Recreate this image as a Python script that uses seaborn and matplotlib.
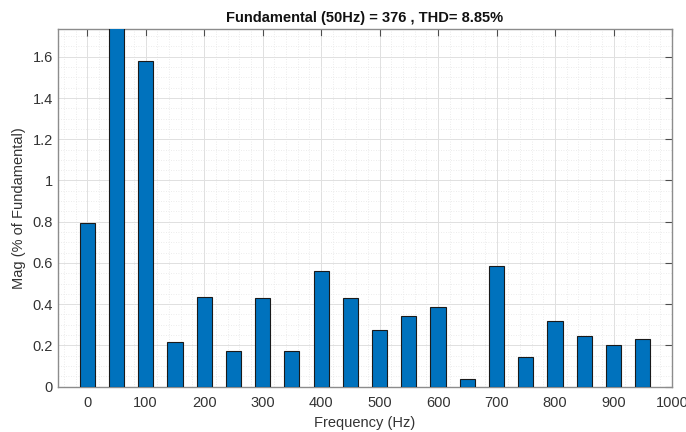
import numpy as np
import pandas as pd
import matplotlib
matplotlib.use("Agg")
import matplotlib.pyplot as plt
from matplotlib.ticker import MultipleLocator, FuncFormatter
import seaborn as sns

# Harmonic spectrum, magnitudes in % of the 50 Hz fundamental
freq_hz = [0, 50, 100, 150, 200, 250, 300, 350, 400, 450,
           500, 550, 600, 650, 700, 750, 800, 850, 900, 950]
mag_pct = [0.795, 100.0, 1.578, 0.218, 0.433, 0.175, 0.430, 0.175, 0.562, 0.430,
           0.273, 0.341, 0.388, 0.037, 0.585, 0.142, 0.320, 0.247, 0.204, 0.230]
x_ticks = list(range(0, 1001, 100))
y_ticks = [0, 0.2, 0.4, 0.6, 0.8, 1.0, 1.2, 1.4, 1.6]

title = "Fundamental (50Hz) = 376 , THD= 8.85%"

sns.set_style("white")
plt.rcParams["font.family"] = ["Liberation Sans", "DejaVu Sans"]

df = pd.DataFrame({"freq": freq_hz, "mag": mag_pct})

fig = plt.figure(figsize=(6.86, 4.32), dpi=100)
ax = fig.add_axes([0.0845, 0.105, 0.8951, 0.827])

sns.barplot(data=df, x="freq", y="mag", native_scale=True, width=0.52,
            color="#0072BD", saturation=1, edgecolor="#1a1a1a", linewidth=0.8,
            ax=ax, zorder=3)

ax.set_xlim(-50, 1000)
ax.set_ylim(0, 1.733)
ax.set_xticks(x_ticks)
ax.set_yticks(y_ticks)
ax.xaxis.set_minor_locator(MultipleLocator(20))
ax.yaxis.set_minor_locator(MultipleLocator(0.05))
ax.yaxis.set_major_formatter(FuncFormatter(lambda v, p: f"{v:g}"))

ax.grid(True, which="major", color="#e0e0e0", linewidth=0.7, zorder=0)
ax.grid(True, which="minor", color="#e6e6e6", linewidth=0.6, linestyle=(0, (1, 2)), zorder=0)
ax.set_axisbelow(True)

for s in ax.spines.values():
    s.set_visible(True)
    s.set_color("#8c8c8c")
    s.set_linewidth(1.0)

ax.tick_params(which="major", direction="in", length=5, width=0.8, color="#4d4d4d",
               top=True, right=True, labelsize=10.5, labelcolor="#333333")
ax.tick_params(axis="x", which="major", pad=7)
ax.tick_params(axis="y", which="major", pad=3.5)
ax.tick_params(which="minor", length=0, top=False, right=False)

ax.set_xlabel("Frequency (Hz)", fontsize=10.5, color="#333333", labelpad=4)
ax.set_ylabel("Mag (% of Fundamental)", fontsize=10.5, color="#333333", labelpad=5)
ax.set_title(title, fontsize=10.5, fontweight="bold", color="#111111", pad=5)

fig.savefig("out.png", dpi=100)
